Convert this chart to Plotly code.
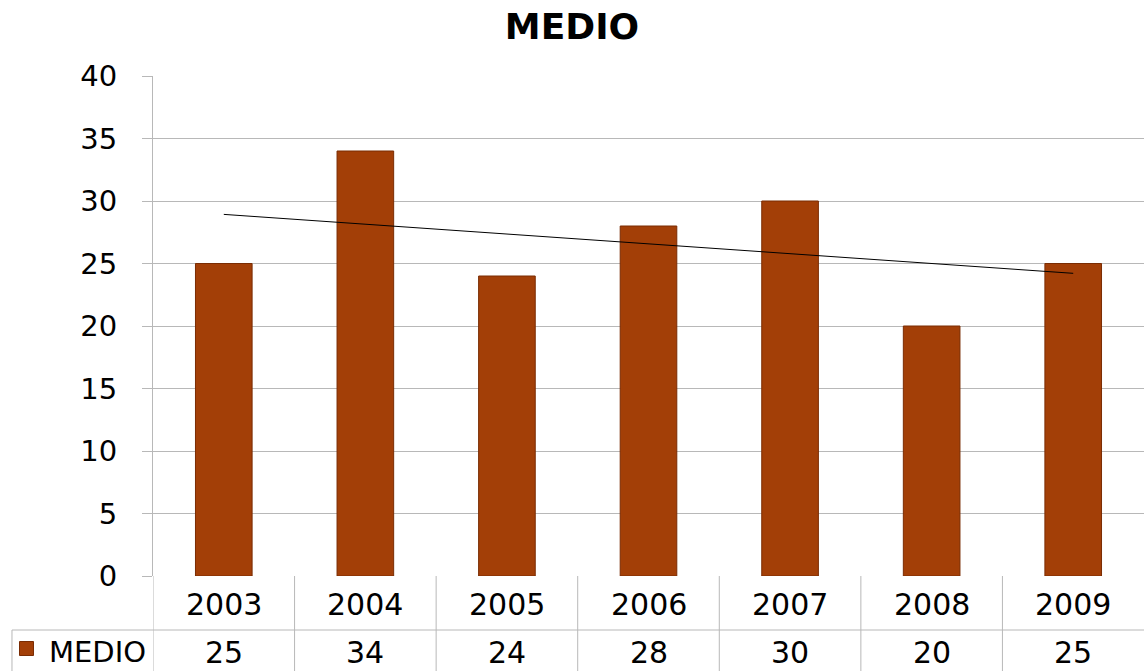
import numpy as np
import plotly.graph_objects as go

title = "MEDIO"
series_name = "MEDIO"
years = ["2003", "2004", "2005", "2006", "2007", "2008", "2009"]
values = [25, 34, 24, 28, 30, 20, 25]
y_ticks = [0, 5, 10, 15, 20, 25, 30, 35, 40]

FONT = "DejaVu Sans, Verdana, sans-serif"
GRID = "#B8B8B8"
BAR = "#A33F07"

# linear trendline computed from the data
xi = np.arange(len(values))
slope, intercept = np.polyfit(xi, values, 1)
trend = slope * xi + intercept

fig = go.Figure()
fig.add_trace(go.Bar(
    x=years, y=values, name=series_name, width=0.4,
    marker=dict(color=BAR, line=dict(color="#7A2C03", width=1)),
    showlegend=False,
))
fig.add_trace(go.Scatter(
    x=years, y=trend, mode="lines",
    line=dict(color="#000000", width=1), showlegend=False,
))

shapes = []
row1_bottom = -0.108
table_bottom = -0.2
for k in range(len(years)):
    xpos = k - 0.5
    shapes.append(dict(type="line", xref="x", yref="paper", x0=xpos, x1=xpos,
                       y0=0, y1=table_bottom, line=dict(color=GRID, width=1)))
shapes.append(dict(type="line", xref="paper", yref="paper", x0=-0.1423, x1=1,
                   y0=row1_bottom, y1=row1_bottom, line=dict(color=GRID, width=1)))
shapes.append(dict(type="line", xref="paper", yref="paper", x0=-0.1423, x1=-0.1423,
                   y0=row1_bottom, y1=table_bottom, line=dict(color=GRID, width=1)))
# legend key square
shapes.append(dict(type="rect", xref="paper", yref="paper", x0=-0.1347, x1=-0.1206,
                   y0=-0.131, y1=-0.159, fillcolor=BAR, line=dict(color="#7A2C03", width=1)))

annotations = []
for i, (yr, v) in enumerate(zip(years, values)):
    annotations.append(dict(x=i, xref="x", y=-0.056, yref="paper", text=yr,
                            showarrow=False, font=dict(family=FONT, size=30, color="#000"),
                            xanchor="center", yanchor="middle"))
    annotations.append(dict(x=i, xref="x", y=-0.153, yref="paper", text=str(v),
                            showarrow=False, font=dict(family=FONT, size=30, color="#000"),
                            xanchor="center", yanchor="middle"))
annotations.append(dict(x=-0.107, xref="paper", y=-0.151, yref="paper", text=series_name,
                        showarrow=False, font=dict(family=FONT, size=29, color="#000"),
                        xanchor="left", yanchor="middle"))

fig.update_layout(
    width=1144, height=671,
    margin=dict(l=153, r=0, t=76, b=95),
    paper_bgcolor="white", plot_bgcolor="white",
    title=dict(text="<b>" + title + "</b>", x=0.5, xanchor="center", y=0.96, yanchor="middle",
               font=dict(family=FONT, size=36, color="#000")),
    xaxis=dict(type="category", showticklabels=False, showgrid=False, zeroline=False,
               showline=False, ticks="", range=[-0.5, len(years) - 0.5]),
    yaxis=dict(range=[0, 40], tickvals=y_ticks, showgrid=True, gridcolor=GRID, gridwidth=1,
               showline=True, linecolor=GRID, linewidth=1, ticks="outside", ticklen=10,
               tickcolor=GRID, zeroline=False, ticklabelstandoff=19,
               tickfont=dict(family=FONT, size=29, color="#000")),
    shapes=shapes, annotations=annotations,
    bargap=0.6,
)
fig.write_html("out.html", config={"displayModeBar": False},
               post_script="document.body.style.margin='0';document.body.style.overflow='hidden';")
